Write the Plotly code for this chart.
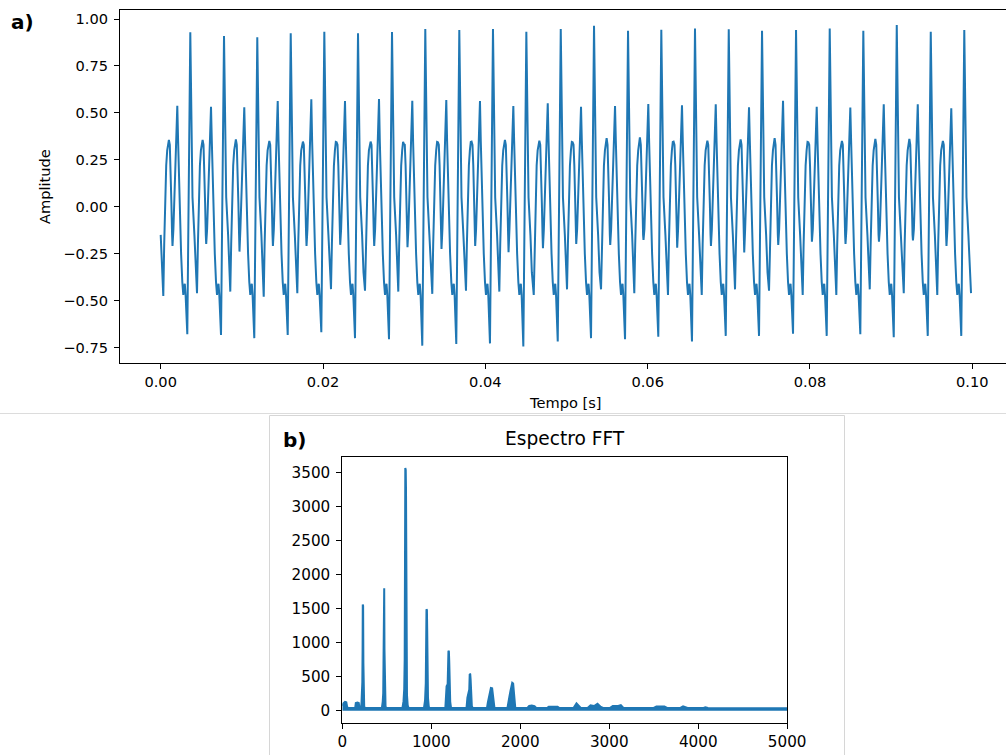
import plotly.graph_objects as go

# ---------------- panel a) : time signal (values read from the picture) ----------------
# time of each tall spike [ms] and the per-cycle extremes that lead up to it
SPIKE_T_MS = [3.647, 7.800, 11.90, 16.02, 20.16, 24.31, 28.50, 32.60, 36.79, 40.94, 45.05, 49.29,
              53.39, 57.58, 61.68, 65.83, 69.99, 74.09, 78.28, 82.43, 86.57, 90.69, 94.88, 99.01]
SPIKE_HI = [0.929, 0.909, 0.903, 0.924, 0.932, 0.924, 0.931, 0.947, 0.941, 0.947, 0.932, 0.947,
            0.964, 0.938, 0.943, 0.950, 0.945, 0.938, 0.941, 0.950, 0.938, 0.968, 0.932, 0.941]
PEAK_MID = [0.538, 0.533, 0.530, 0.563, 0.572, 0.563, 0.574, 0.565, 0.569, 0.563, 0.537, 0.551,
            0.533, 0.537, 0.547, 0.540, 0.546, 0.530, 0.565, 0.533, 0.528, 0.546, 0.546, 0.524]
TROUGH = [-0.679, -0.683, -0.700, -0.683, -0.668, -0.700, -0.706, -0.740, -0.731, -0.728, -0.745, -0.718,
          -0.700, -0.706, -0.692, -0.718, -0.688, -0.688, -0.677, -0.688, -0.679, -0.695, -0.688, -0.688]
BUMP = [0.356, 0.356, 0.359, 0.350, 0.347, 0.343, 0.347, 0.334, 0.343, 0.347, 0.356, 0.352,
        0.343, 0.365, 0.370, 0.347, 0.352, 0.359, 0.365, 0.343, 0.350, 0.361, 0.361, 0.350]
DIP_B = [-0.209, -0.198, -0.239, -0.209, -0.209, -0.203, -0.209, -0.216, -0.225, -0.209, -0.242, -0.221,
         -0.198, -0.203, -0.177, -0.218, -0.209, -0.244, -0.203, -0.186, -0.198, -0.186, -0.180, -0.209]
DIP_A = [-0.475, -0.461, -0.452, -0.479, -0.461, -0.439, -0.447, -0.452, -0.464, -0.447, -0.452, -0.470,
         -0.440, -0.440, -0.461, -0.470, -0.470, -0.440, -0.447, -0.470, -0.470, -0.440, -0.461, -0.470]
START_POINT = (0.0, -0.15)        # first sample (t [ms], amplitude)
END_POINT = (99.84, -0.46)        # last sample

# shape of one cycle around a spike: offsets [ms] and amplitude
# (a name refers to the per-cycle list above)
CYCLE_OFFSET_MS = [-3.327, -3.216, -3.093, -2.969, -2.846, -2.735, -2.637, -2.526, -2.427, -2.329,
                   -2.243, -2.193, -2.082, -1.934, -1.750, -1.602, -1.503, -1.318, -1.134, -0.986,
                   -0.862, -0.776, -0.678, -0.579, -0.370, 0.0, 0.123, 0.271, 0.505, 0.678]
CYCLE_VALUE = ["DIP_A", -0.20, 0.08, 0.22, 0.30, 0.345, "BUMP", 0.33, 0.22, 0.02,
               -0.15, "DIP_B", -0.12, 0.12, 0.40, "PEAK_MID", 0.35, 0.0, -0.25, -0.40,
               -0.47, -0.43, -0.41, -0.47, "TROUGH", "SPIKE_HI", 0.40, 0.05, -0.15, -0.35]

named = {"DIP_A": DIP_A, "BUMP": BUMP, "DIP_B": DIP_B, "PEAK_MID": PEAK_MID,
         "TROUGH": TROUGH, "SPIKE_HI": SPIKE_HI}

t_sig = [START_POINT[0] / 1000.0]
y_sig = [START_POINT[1]]
for k, ts in enumerate(SPIKE_T_MS):
    for off, val in zip(CYCLE_OFFSET_MS, CYCLE_VALUE):
        t_sig.append((ts + off) / 1000.0)
        y_sig.append(named[val][k] if isinstance(val, str) else val)
t_sig.append(END_POINT[0] / 1000.0)
y_sig.append(END_POINT[1])

# ---------------- panel b) : FFT spectrum (values read from the picture) ----------------
FFT_HZ = [0, 12, 30, 45, 55, 70, 145, 152, 170, 185, 192, 210,
          216, 221, 225, 228, 230, 234, 237, 240, 246, 256,
          445, 454, 460, 463, 466, 471, 474, 478, 486, 496,
          676, 688, 696, 701, 705, 708, 713, 716, 719, 722, 727, 735, 745,
          918, 930, 938, 943, 946, 951, 954, 958, 963, 972, 982,
          1158, 1166, 1172, 1184, 1189, 1193, 1198, 1202, 1207, 1213, 1222,
          1396, 1406, 1416, 1427, 1432, 1438, 1442, 1448, 1456, 1466,
          1626, 1636, 1646, 1656, 1663, 1670, 1684, 1692, 1700, 1710,
          1856, 1866, 1878, 1890, 1902, 1910, 1920, 1927, 1934, 1944,
          2080, 2100, 2130, 2160, 2180,
          2300, 2320, 2380, 2420, 2440,
          2600, 2632, 2652, 2680,
          2760, 2790, 2830, 2868, 2900, 2930,
          3010, 3040, 3100, 3130, 3160,
          3500, 3530, 3620, 3650,
          3800, 3830, 3860, 3880,
          4060, 4080, 4110,
          4600, 5000]
FFT_MAG = [75, 108, 128, 122, 50, 40, 40, 112, 120, 114, 45, 40,
           120, 300, 420, 900, 1560, 1540, 700, 250, 60, 40,
           40, 130, 260, 700, 1790, 1800, 900, 220, 60, 40,
           40, 140, 320, 750, 2600, 3570, 3540, 3250, 1400, 450, 230, 80, 40,
           40, 150, 400, 1000, 1490, 1480, 1200, 500, 190, 55, 40,
           40, 220, 360, 390, 620, 880, 870, 720, 330, 130, 40,
           40, 190, 270, 310, 540, 535, 460, 200, 65, 40,
           40, 120, 185, 205, 305, 335, 330, 245, 85, 40,
           40, 150, 205, 290, 355, 410, 400, 245, 85, 40,
           40, 68, 75, 65, 40,
           40, 58, 60, 58, 40,
           42, 108, 72, 40,
           42, 78, 68, 100, 60, 40,
           42, 68, 70, 80, 40,
           40, 60, 60, 40,
           40, 64, 55, 40,
           40, 48, 40,
           36, 36]

TOP_X_TICKS = [0.0, 0.02, 0.04, 0.06, 0.08, 0.10]
TOP_X_LABELS = ["0.00", "0.02", "0.04", "0.06", "0.08", "0.10"]
TOP_Y_TICKS = [-0.75, -0.5, -0.25, 0.0, 0.25, 0.5, 0.75, 1.0]
TOP_Y_LABELS = ["\u22120.75", "\u22120.50", "\u22120.25", "0.00", "0.25", "0.50", "0.75", "1.00"]
BOT_X_TICKS = [0, 1000, 2000, 3000, 4000, 5000]
BOT_Y_TICKS = [0, 500, 1000, 1500, 2000, 2500, 3000, 3500]

# ---------------- figure ----------------
W, H = 1006, 755
BLUE = "#1f77b4"
FONT = "DejaVu Sans"


def fx(p):
    return p / W


def fy(p):
    return 1 - p / H


fig = go.Figure()
fig.add_trace(go.Scatter(x=t_sig, y=y_sig, mode="lines", line=dict(color=BLUE, width=2),
                         xaxis="x", yaxis="y", hoverinfo="skip"))
fig.add_trace(go.Scatter(x=FFT_HZ, y=FFT_MAG, mode="lines", line=dict(color=BLUE, width=2),
                         fill="tozeroy", fillcolor=BLUE, xaxis="x2", yaxis="y2", hoverinfo="skip"))

axis_common = dict(ticks="outside", ticklen=5, tickwidth=1, tickcolor="black",
                   showline=True, linecolor="black", linewidth=1, automargin=False,
                   showgrid=False, zeroline=False)

fig.update_layout(
    width=W, height=H, margin=dict(l=0, r=0, t=0, b=0, autoexpand=False),
    paper_bgcolor="white", plot_bgcolor="white", showlegend=False,
    font=dict(family=FONT, color="black"),
    xaxis=dict(domain=[fx(120), 1.0], range=[-0.005015, 0.10415], anchor="y",
               tickvals=TOP_X_TICKS, ticktext=TOP_X_LABELS, mirror=True,
               tickfont=dict(size=14.6), **axis_common),
    yaxis=dict(domain=[fy(363.3), fy(10)], range=[-0.834, 1.048], anchor="x",
               tickvals=TOP_Y_TICKS, ticktext=TOP_Y_LABELS, mirror=False,
               tickfont=dict(size=14.6), ticklabelstandoff=3, **axis_common),
    xaxis2=dict(domain=[fx(342.3), fx(787.2)], range=[0, 5000], anchor="y2",
                tickvals=BOT_X_TICKS, ticktext=[str(v) for v in BOT_X_TICKS], mirror=True,
                tickfont=dict(size=15.2), **axis_common),
    yaxis2=dict(domain=[fy(722.5), fy(456.7)], range=[-174, 3735], anchor="x2",
                tickvals=BOT_Y_TICKS, ticktext=[str(v) for v in BOT_Y_TICKS], mirror=True,
                tickfont=dict(size=15.2), ticklabelstandoff=3, **axis_common),
    shapes=[
        dict(type="line", xref="paper", yref="paper", x0=0, x1=1, y0=fy(413.5), y1=fy(413.5),
             line=dict(color="#dcdcdc", width=1)),
        dict(type="rect", xref="paper", yref="paper", x0=fx(269.5), x1=fx(844.5),
             y0=fy(760), y1=fy(415.5), line=dict(color="#d6d6d6", width=1)),
    ],
    annotations=[
        dict(text="<b>a)</b>", x=fx(22.7), y=fy(22), xref="paper", yref="paper",
             xanchor="center", yanchor="middle", showarrow=False, font=dict(size=20)),
        dict(text="<b>b)</b>", x=fx(294), y=fy(440.4), xref="paper", yref="paper",
             xanchor="center", yanchor="middle", showarrow=False, font=dict(size=20)),
        dict(text="Espectro FFT", x=fx(564.5), y=fy(438.8), xref="paper", yref="paper",
             xanchor="center", yanchor="middle", showarrow=False, font=dict(size=18.6)),
        dict(text="Tempo [s]", x=fx(564.7), y=fy(402.3), xref="paper", yref="paper",
             xanchor="center", yanchor="middle", showarrow=False, font=dict(size=14.6)),
        dict(text="Amplitude", x=fx(44.5), y=fy(186.5), xref="paper", yref="paper",
             xanchor="center", yanchor="middle", showarrow=False, textangle=-90,
             font=dict(size=14.6)),
    ],
)

fig.write_html("out.html")
